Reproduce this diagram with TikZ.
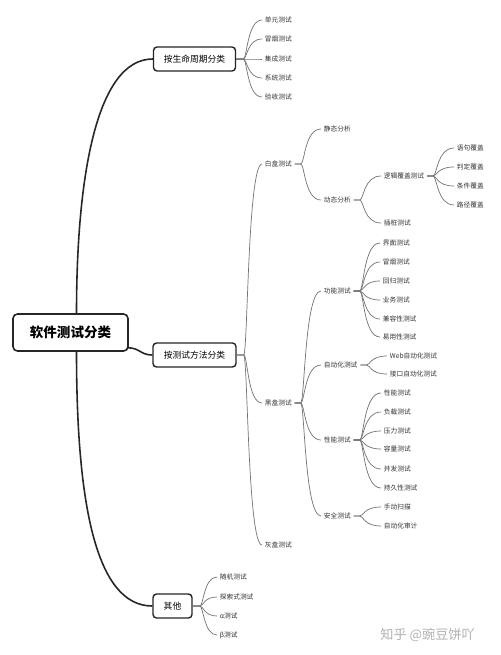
\documentclass[tikz,border=0pt]{standalone}
\usepackage{fontspec}
\newfontfamily\cjk{Noto Sans CJK SC}
\usetikzlibrary{positioning, calc}

\tikzset{
  leaf/.style={anchor=west, inner sep=1.5pt, text=black!80, font=\cjk\fontsize{3.8}{4.5}\selectfont},
  topic/.style={draw=black!85, line width=0.8pt, rounded corners=2pt, inner sep=0pt, minimum height=0.48cm, font=\cjk\fontsize{5}{6}\selectfont},
  branch/.style={draw=black!55, line width=0.4pt},
  mainline/.style={draw=black!85, line width=0.9pt},
  xcurve/.style={to path={.. controls ($(\tikztostart)+(#1,0)$) and ($(\tikztostart |- \tikztotarget)+(#1,0)$) .. (\tikztotarget)}},
  xcurve/.default=4
}

\begin{document}
\begin{tikzpicture}[x=0.02cm, y=-0.02cm]
        \useasboundingbox[fill=white] (0,0) rectangle (500,655);
        % main topics
        \node[draw=black!85, line width=0.9pt, rounded corners=2.5pt, minimum width=2.3cm, minimum height=0.74cm, font=\cjk\bfseries\fontsize{7.7}{9}\selectfont] (root) at (70.5,332.5) {软件测试分类};
        \node[topic, minimum width=1.64cm] (life) at (194.5,59) {按生命周期分类};
        \node[topic, minimum width=1.66cm] (method) at (194.5,355) {按测试方法分类};
        \node[topic, minimum width=0.78cm] (other) at (172.5,606) {其他};

        % life cycle
        \node[leaf] (unit) at (262,20) {单元测试};
        \node[leaf] (smoke) at (262,39) {冒烟测试};
        \node[leaf] (integ) at (262,59) {集成测试};
        \node[leaf] (system) at (262,78) {系统测试};
        \node[leaf] (accept) at (262,97) {验收测试};

        % method
        \node[leaf] (white) at (262,164) {白盒测试};
        \node[leaf] (black) at (262,403) {黑盒测试};
        \node[leaf] (grey) at (262,545) {灰盒测试};
        \node[leaf] (static) at (321,129) {静态分析};
        \node[leaf] (dynamic) at (321,200) {动态分析};
        \node[leaf] (logic) at (381,176) {逻辑覆盖测试};
        \node[leaf] (probe) at (381,223) {插桩测试};
        \node[leaf] (stmt) at (454,148) {语句覆盖};
        \node[leaf] (decide) at (454,167) {判定覆盖};
        \node[leaf] (cond) at (454,186) {条件覆盖};
        \node[leaf] (path) at (454,205) {路径覆盖};

        \node[leaf] (func) at (321,291) {功能测试};
        \node[leaf] (auto) at (321,365) {自动化测试};
        \node[leaf] (perf) at (321,440) {性能测试};
        \node[leaf] (secu) at (321,516) {安全测试};
        \node[leaf] (ui) at (380,243) {界面测试};
        \node[leaf] (smoke2) at (380,262) {冒烟测试};
        \node[leaf] (regress) at (380,281) {回归测试};
        \node[leaf] (biz) at (380,300) {业务测试};
        \node[leaf] (compat) at (380,319) {兼容性测试};
        \node[leaf] (usable) at (380,337) {易用性测试};
        \node[leaf] (web) at (387,356) {Web自动化测试};
        \node[leaf] (api) at (387,374) {接口自动化测试};
        \node[leaf] (perf2) at (381,393) {性能测试};
        \node[leaf] (load) at (381,412) {负载测试};
        \node[leaf] (stress) at (381,431) {压力测试};
        \node[leaf] (volume) at (381,449) {容量测试};
        \node[leaf] (conc) at (381,469) {并发测试};
        \node[leaf] (endur) at (381,488) {持久性测试};
        \node[leaf] (scan) at (381,507) {手动扫描};
        \node[leaf] (audit) at (381,526) {自动化审计};

        % other
        \node[leaf] (random) at (217,577) {随机测试};
        \node[leaf] (explore) at (217,597) {探索式测试};
        \node[leaf] (alpha) at (217,616) {α测试};
        \node[leaf] (beta) at (217,635) {β测试};

        \node[anchor=west, inner sep=0pt, text=black!30, font=\cjk\fontsize{7.5}{9}\selectfont] (credit) at (380,635) {知乎 @豌豆饼吖};

        % connectors
        \draw[mainline] ($(root.north)+(6,0)$) .. controls +(0,-134) and +(-57,0) .. (life.west);
        \draw[mainline] ($(root.south east)+(-1,-4)$) .. controls +(12,0) and +(-12,0) .. (method.west);
        \draw[mainline] ($(root.south)+(6,0)$) .. controls +(0,150) and +(-57,0) .. (other.west);

        \foreach \c in {unit,smoke,integ,system,accept}
          \draw[branch] (life.east) -- ++(7,0) to[xcurve] (\c.west);
        \foreach \c in {white,black,grey}
          \draw[branch] (method.east) -- ++(7,0) to[xcurve] (\c.west);
        \foreach \c in {static,dynamic}
          \draw[branch] (white.east) -- ++(6,0) to[xcurve] (\c.west);
        \foreach \c in {logic,probe}
          \draw[branch] (dynamic.east) -- ++(6,0) to[xcurve] (\c.west);
        \foreach \c in {stmt,decide,cond,path}
          \draw[branch] (logic.east) -- ++(6,0) to[xcurve] (\c.west);
        \foreach \c in {func,auto,perf,secu}
          \draw[branch] (black.east) -- ++(6,0) to[xcurve] (\c.west);
        \foreach \c in {ui,smoke2,regress,biz,compat,usable}
          \draw[branch] (func.east) -- ++(6,0) to[xcurve] (\c.west);
        \foreach \c in {web,api}
          \draw[branch] (auto.east) -- ++(6,0) to[xcurve] (\c.west);
        \foreach \c in {perf2,load,stress,volume,conc,endur}
          \draw[branch] (perf.east) -- ++(6,0) to[xcurve] (\c.west);
        \foreach \c in {scan,audit}
          \draw[branch] (secu.east) -- ++(6,0) to[xcurve] (\c.west);
        \foreach \c in {random,explore,alpha,beta}
          \draw[branch] (other.east) -- ++(7,0) to[xcurve] (\c.west);
\end{tikzpicture}
\end{document}
